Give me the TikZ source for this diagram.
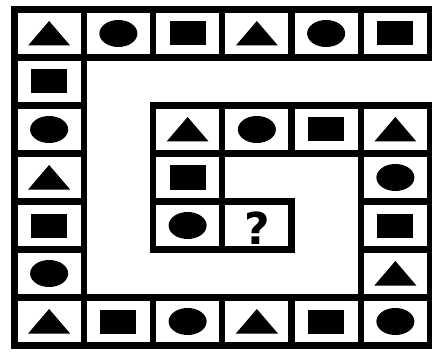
\documentclass[tikz,border=0pt]{standalone}
\usepackage{fontspec}
\usepackage{tikz}
\usetikzlibrary{calc}
\newfontfamily\quizfont{DejaVu Sans}
\tikzset{cellbox/.style={draw=black, line width=3.2pt, fill=white}}

% one cell of the board, with its mark in the middle
\newcommand{\celltri}[2]{%
  \begin{scope}[shift={(#1+0.5,#2+0.5)}]
    \draw[cellbox] (-0.5,-0.5) rectangle (0.5,0.5);
    \fill (0,6.25pt) -- (-10.5pt,-6pt) -- (10.5pt,-6pt) -- cycle;
  \end{scope}}
\newcommand{\cellcirc}[2]{%
  \begin{scope}[shift={(#1+0.5,#2+0.5)}]
    \draw[cellbox] (-0.5,-0.5) rectangle (0.5,0.5);
    \fill (0,0) ellipse (9.5pt and 6.75pt);
  \end{scope}}
\newcommand{\cellsq}[2]{%
  \begin{scope}[shift={(#1+0.5,#2+0.5)}]
    \draw[cellbox] (-0.5,-0.5) rectangle (0.5,0.5);
    \fill (-9pt,-6pt) rectangle (9pt,6pt);
  \end{scope}}

\begin{document}
\begin{tikzpicture}[x=34.625pt, y=-24pt]
    \useasboundingbox (-7.25pt,4.75pt) rectangle (208.75pt,-171.25pt);

    % Top row
    \celltri{0}{0} \cellcirc{1}{0} \cellsq{2}{0}
    \celltri{3}{0} \cellcirc{4}{0} \cellsq{5}{0}

    % Left column
    \cellsq{0}{1} \cellcirc{0}{2} \celltri{0}{3}
    \cellsq{0}{4} \cellcirc{0}{5}

    % Bottom row
    \celltri{0}{6} \cellsq{1}{6} \cellcirc{2}{6}
    \celltri{3}{6} \cellsq{4}{6} \cellcirc{5}{6}

    % Right column
    \celltri{5}{5} \cellsq{5}{4} \cellcirc{5}{3} \celltri{5}{2}

    % Inner turn
    \cellsq{4}{2} \cellcirc{3}{2} \celltri{2}{2}
    \cellsq{2}{3} \cellcirc{2}{4}

    % Missing one
    \draw[cellbox] (3,4) rectangle (4,5);
    \node[font=\quizfont\bfseries\fontsize{22}{22}\selectfont] (quest) at ($(3.5,4.5)+(0,-1.5pt)$) {?};
\end{tikzpicture}
\end{document}
